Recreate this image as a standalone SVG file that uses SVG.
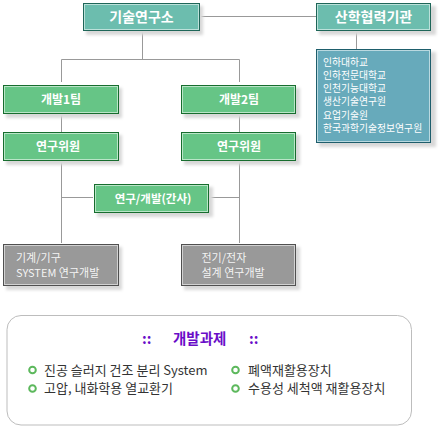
<svg xmlns="http://www.w3.org/2000/svg" width="440" height="431" viewBox="0 0 440 431">
<defs>
<filter id="sh" x="-10%" y="-10%" width="130%" height="150%">
<feGaussianBlur stdDeviation="1.5"/>
</filter>
</defs>
<style>
.shadow{fill:#d8d8d8;filter:url(#sh)}
.teal{fill:#6cbdae;stroke:#1e6658;stroke-width:1}
.green{fill:#66c586;stroke:#176d2e;stroke-width:1}
.gray{fill:#999999;stroke:#505050;stroke-width:1}
.blue{fill:#67aabb;stroke:#1e5e6c;stroke-width:1}
.inner{fill:none;stroke:#ffffff;stroke-opacity:0.55;stroke-width:1}
.t{font-family:"Noto Sans CJK KR","Noto Sans",sans-serif;font-weight:bold;fill:#ffffff;text-anchor:middle}
.tl{font-family:"Noto Sans CJK KR","Noto Sans",sans-serif;fill:#ffffff}
.con{stroke:#999999;stroke-width:1;fill:none}
.item{font-family:"Noto Sans CJK KR","Noto Sans",sans-serif;font-size:13px;fill:#333333}
.dot{fill:none;stroke:#5cb85c;stroke-width:2}
</style>
<g id="connectors">
<path class="con" d="M200.5 16.5H316"/>
<path class="con" d="M356.5 31V49"/>
<path class="con" d="M142.5 31V59.5M61.5 82V59.5H239.5V82"/>
<path class="con" d="M61.5 114V132M239.5 114V132"/>
<path class="con" d="M61.5 160V243M239.5 160V243"/>
<path class="con" d="M61.5 197.5H93M210 197.5H239.5"/>
</g>
<g id="n-lab">
<rect class="shadow" x="86" y="6" width="117" height="29"/>
<rect class="teal" x="83.5" y="3.5" width="116" height="27"/>
<rect class="inner" x="84.5" y="4.5" width="114" height="25"/>
<text class="t" x="141.5" y="22" font-size="14">기술연구소</text>
</g>
<g id="n-coop">
<rect class="shadow" x="319" y="6" width="117" height="29"/>
<rect class="teal" x="316.5" y="3.5" width="114" height="27"/>
<rect class="inner" x="317.5" y="4.5" width="112" height="25"/>
<text class="t" x="373.5" y="22" font-size="14">산학협력기관</text>
</g>
<g id="n-list">
<rect class="shadow" x="319" y="52" width="117" height="95"/>
<rect class="blue" x="316.5" y="49.5" width="114" height="93"/>
<rect class="inner" x="317.5" y="50.5" width="112" height="91"/>
<text class="tl" font-size="9.8">
<tspan x="323" y="65.5">인하대하교</tspan>
<tspan x="323" y="78.8">인하전문대학교</tspan>
<tspan x="323" y="92.1">인천기능대학교</tspan>
<tspan x="323" y="105.4">생산기술연구원</tspan>
<tspan x="323" y="118.7">요업기술원</tspan>
<tspan x="323" y="132">한국과학기술정보연구원</tspan>
</text>
</g>
<g id="n-team1">
<rect class="shadow" x="6" y="88" width="116" height="30"/>
<rect class="green" x="3.5" y="85.5" width="115" height="28"/>
<rect class="inner" x="4.5" y="86.5" width="113" height="26"/>
<text class="t" x="61" y="104" font-size="12">개발1팀</text>
</g>
<g id="n-team2">
<rect class="shadow" x="184" y="88" width="116" height="30"/>
<rect class="green" x="181.5" y="85.5" width="114" height="28"/>
<rect class="inner" x="182.5" y="86.5" width="112" height="26"/>
<text class="t" x="239" y="104" font-size="12">개발2팀</text>
</g>
<g id="n-res1">
<rect class="shadow" x="6" y="135" width="116" height="30"/>
<rect class="green" x="3.5" y="132.5" width="115" height="28"/>
<rect class="inner" x="4.5" y="133.5" width="113" height="26"/>
<text class="t" x="58" y="151" font-size="12">연구위원</text>
</g>
<g id="n-res2">
<rect class="shadow" x="184" y="135" width="116" height="30"/>
<rect class="green" x="181.5" y="132.5" width="114" height="28"/>
<rect class="inner" x="182.5" y="133.5" width="112" height="26"/>
<text class="t" x="239" y="151" font-size="12">연구위원</text>
</g>
<g id="n-sec">
<rect class="shadow" x="97" y="187" width="116" height="30"/>
<rect class="green" x="94.5" y="184.5" width="114" height="28"/>
<rect class="inner" x="95.5" y="185.5" width="112" height="26"/>
<text class="t" x="153" y="203" font-size="11.5">연구/개발(간사)</text>
</g>
<g id="n-mech">
<rect class="shadow" x="6" y="247" width="116" height="43"/>
<rect class="gray" x="3.5" y="244.5" width="115" height="41"/>
<rect class="inner" x="4.5" y="245.5" width="113" height="39"/>
<text class="tl" font-size="11" fill-opacity="0.9">
<tspan x="16" y="261.5">기계/기구</tspan>
<tspan x="16" y="277">SYSTEM 연구개발</tspan>
</text>
</g>
<g id="n-elec">
<rect class="shadow" x="184" y="247" width="116" height="43"/>
<rect class="gray" x="181.5" y="244.5" width="114" height="41"/>
<rect class="inner" x="182.5" y="245.5" width="112" height="39"/>
<text class="tl" font-size="11" fill-opacity="0.9">
<tspan x="201.5" y="261.5">전기/전자</tspan>
<tspan x="201.5" y="277">설계 연구개발</tspan>
</text>
</g>
<g id="tasks">
<rect x="7" y="315.5" width="404.5" height="109.5" rx="14" ry="14" fill="#ffffff" stroke="#bdbdbd" stroke-width="1"/>
<text font-family="'Noto Sans CJK KR','Noto Sans',sans-serif" font-size="14.5" font-weight="bold" fill="#6a0dc8" y="344">
<tspan x="142">::</tspan><tspan x="173">개발과제</tspan><tspan x="249">::</tspan>
</text>
<circle class="dot" cx="32.5" cy="370" r="3.3"/>
<text class="item" x="44" y="374.5">진공 슬러지 건조 분리 System</text>
<circle class="dot" cx="32.5" cy="388.5" r="3.3"/>
<text class="item" x="44" y="393">고압, 내화학용 열교환기</text>
<circle class="dot" cx="235.5" cy="370" r="3.3"/>
<text class="item" x="248" y="374.5">폐액재활용장치</text>
<circle class="dot" cx="235.5" cy="388.5" r="3.3"/>
<text class="item" x="248" y="393">수용성 세척액 재활용장치</text>
</g>
</svg>
